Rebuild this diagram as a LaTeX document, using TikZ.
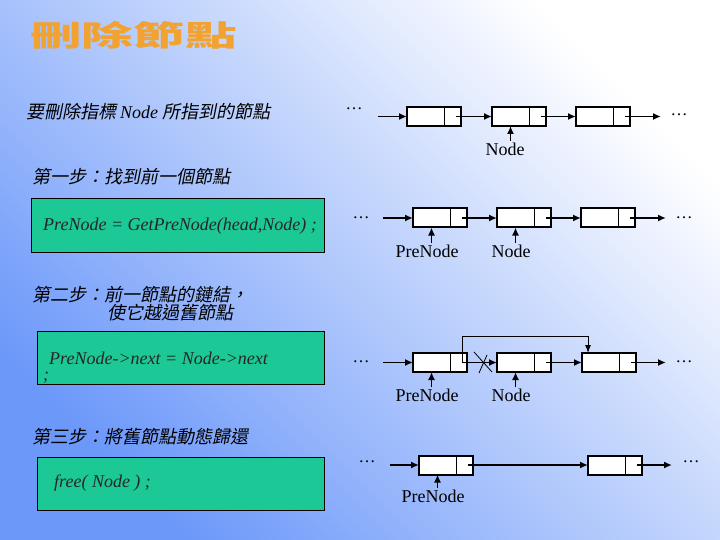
\documentclass[tikz,border=0pt]{standalone}
\usepackage{fontspec}
\setmainfont{Liberation Serif}
\newfontfamily\cjk{Noto Sans CJK TC}[FakeSlant=0.2]
\newfontfamily\cjkt{Noto Sans CJK TC}
\usetikzlibrary{arrows.meta}
\definecolor{bgblue}{RGB}{108,152,250}
\definecolor{gboxgreen}{RGB}{28,200,150}
\definecolor{titleorange}{RGB}{242,162,48}
\newcommand\mkcell[3]{%
  \node[dcell] (#1d) at (#2,#3) {};
  \node[pcell] (#1p) at (#1d.east) {};
  \draw[boxout] (#1d.north west) rectangle (#1p.south east);}
\begin{document}
\begin{tikzpicture}[x=1pt,y=-1pt,
  dcell/.style={draw, line width=1pt, fill=white, minimum width=37pt, minimum height=19pt, inner sep=0pt, outer sep=0pt, anchor=west},
  pcell/.style={draw, line width=1pt, fill=white, minimum width=17pt, minimum height=19pt, inner sep=0pt, outer sep=0pt, anchor=west},
  boxout/.style={line width=2pt},
  lnk/.style={line width=1.8pt, -{Latex[length=8pt,width=7pt]}},
  thinlnk/.style={line width=1pt, -{Latex[length=8pt,width=6pt]}},
  lbl/.style={font=\fontsize{18}{20}\selectfont, inner sep=0pt, anchor=north},
  dotsn/.style={font=\fontsize{17}{19}\selectfont, inner sep=0pt},
  code/.style={font=\fontsize{18}{20}\selectfont\itshape, text=black!85, inner sep=0pt, anchor=west},
  stepl/.style={font=\fontsize{18}{20}\selectfont\cjk, inner sep=0pt, anchor=west},
  gbox/.style={draw=black, line width=0.8pt, fill=gboxgreen, inner sep=0pt, anchor=north west}]
\useasboundingbox (0,0) rectangle (720,540);
\shade[top color=white, bottom color=bgblue, shading angle=-45] (0,0) rectangle (720,540);

% title
\node[anchor=west, inner sep=0pt, font=\cjkt\bfseries\fontsize{29}{31}\selectfont, text=titleorange, xscale=1.78] (title) at (30,35) {刪除節點};

% left texts
\node[stepl] (intro) at (26,112) {要刪除指標 {\normalfont\itshape Node} 所指到的節點};
\node[stepl] (s1) at (32,177) {第一步：找到前一個節點};
\node[gbox, minimum width=293pt, minimum height=54pt] (g1) at (31,198) {};
\node[code] (c1) at (43,226) {PreNode = GetPreNode(head,Node) ;};
\node[stepl] (s2) at (32,295) {第二步：前一節點的鏈結，};
\node[stepl] (s2b) at (107,313) {使它越過舊節點};
\node[gbox, minimum width=287pt, minimum height=53pt] (g2) at (37,331) {};
\node[code] (c2) at (49,358) {PreNode->next = Node->next};
\node[code] (c2b) at (43,378) {;};
\node[stepl] (s3) at (32,437) {第三步：將舊節點動態歸還};
\node[gbox, minimum width=287pt, minimum height=53pt] (g3) at (37,457) {};
\node[code] (c3) at (54,483) {free( Node ) ;};

% row 1
\mkcell{ra}{407}{116.5}
\mkcell{rb}{492}{116.5}
\mkcell{rc}{576}{116.5}
\node[dotsn] (d1l) at (354,109) {\ldots};
\node[dotsn] (d1r) at (679,115) {\ldots};
\coordinate (in1) at (378,116.5);
\coordinate (out1) at (661,116.5);
\draw[lnk] (in1) -- (rad.west);
\draw[lnk] ([xshift=3pt]rap.center) -- (rbd.west);
\draw[lnk] ([xshift=3pt]rbp.center) -- (rcd.west);
\draw[lnk] ([xshift=3pt]rcp.center) -- (out1);
\node[lbl] (n1) at (505,143) {Node};
\draw[lnk] ([yshift=2pt]n1.north -| rbd.south) -- (rbd.south);

% row 2
\mkcell{sa}{413}{218}
\mkcell{sb}{497}{218}
\mkcell{sc}{581}{218}
\node[dotsn] (d2l) at (361,218) {\ldots};
\node[dotsn] (d2r) at (684,218) {\ldots};
\coordinate (in2) at (383,218);
\coordinate (out2) at (666,218);
\draw[lnk] (in2) -- (sad.west);
\draw[lnk] ([xshift=3pt]sap.center) -- (sbd.west);
\draw[lnk] ([xshift=3pt]sbp.center) -- (scd.west);
\draw[lnk] ([xshift=3pt]scp.center) -- (out2);
\node[lbl] (p2) at (427,245) {PreNode};
\node[lbl] (n2) at (511,245) {Node};
\draw[lnk] ([yshift=2pt]p2.north -| sad.south) -- (sad.south);
\draw[lnk] ([yshift=2pt]n2.north -| sbd.south) -- (sbd.south);

% row 3
\mkcell{ta}{413}{362.5}
\mkcell{tb}{497}{362.5}
\mkcell{tc}{582}{362.5}
\node[dotsn] (d3l) at (361,362) {\ldots};
\node[dotsn] (d3r) at (684,362) {\ldots};
\coordinate (in3) at (383,362.5);
\coordinate (out3) at (666,362.5);
\draw[lnk] (in3) -- (tad.west);
\draw[lnk] ([xshift=3pt]tap.center) -- (tbd.west);
\draw[lnk] ([xshift=3pt]tbp.center) -- (tcd.west);
\draw[lnk] ([xshift=3pt]tcp.center) -- (out3);
\draw[thinlnk] ([xshift=4pt]tap.center) -- ++(0,-26) -| ([xshift=6pt]tcd.north west);
\draw[line width=0.8pt] (474,352) -- (492,372);
\draw[line width=0.8pt] (479,373) -- (487,355);
\node[lbl] (p3) at (427,389) {PreNode};
\node[lbl] (n3) at (511,389) {Node};
\draw[lnk] ([yshift=2pt]p3.north -| tad.south) -- (tad.south);
\draw[lnk] ([yshift=2pt]n3.north -| tbd.south) -- (tbd.south);

% row 4
\mkcell{ua}{419}{465}
\mkcell{ub}{588}{465}
\node[dotsn] (d4l) at (367,462) {\ldots};
\node[dotsn] (d4r) at (691,462) {\ldots};
\coordinate (in4) at (390,465);
\coordinate (out4) at (672,465);
\draw[lnk] (in4) -- (uad.west);
\draw[lnk] ([xshift=3pt]uap.center) -- (ubd.west);
\draw[lnk] ([xshift=3pt]ubp.center) -- (out4);
\node[lbl] (p4) at (433,490) {PreNode};
\draw[lnk] ([yshift=2pt]p4.north -| uad.south) -- (uad.south);
\end{tikzpicture}
\end{document}
